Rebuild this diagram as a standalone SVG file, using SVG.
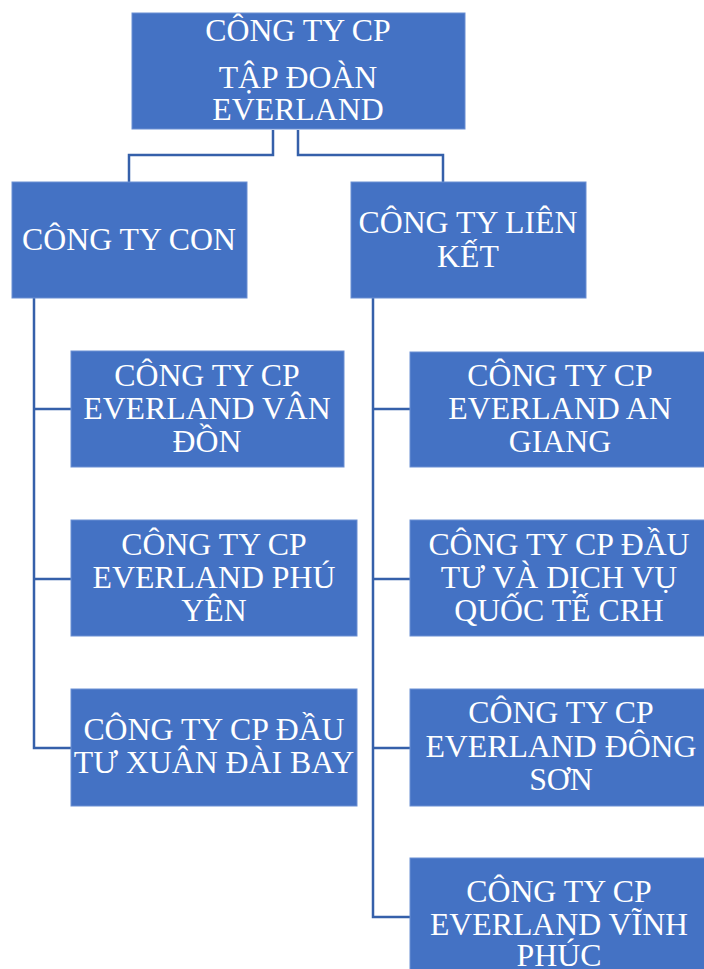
<svg xmlns="http://www.w3.org/2000/svg" width="704" height="969" viewBox="0 0 704 969">
<style>
.box{fill:#4472C4;stroke:#6A8FD3;stroke-width:1}
.t{font-family:"Liberation Serif","Times New Roman",serif;font-size:31.8px;fill:#FFFFFF;text-anchor:middle}
.c{fill:none;stroke:#3560AA;stroke-width:2.5}
</style>
<rect width="704" height="969" fill="#FFFFFF"/>
<g id="connectors">
<path class="c" d="M273,130 V155 H129 V182"/>
<path class="c" d="M298,130 V155 H443 V182"/>
<path class="c" d="M34,298 V748 H71"/>
<path class="c" d="M34,409 H71"/>
<path class="c" d="M34,579 H71"/>
<path class="c" d="M373,298 V917 H410"/>
<path class="c" d="M373,409 H410"/>
<path class="c" d="M373,579 H410"/>
<path class="c" d="M373,748 H410"/>
</g>
<g id="root">
<rect class="box" x="132" y="13" width="333" height="116"/>
<text class="t" x="298" y="41">CÔNG TY CP</text>
<text class="t" x="298" y="88">TẬP ĐOÀN</text>
<text class="t" x="298" y="120">EVERLAND</text>
</g>
<g id="con">
<rect class="box" x="12" y="182" width="235" height="116"/>
<text class="t" x="129" y="250">CÔNG TY CON</text>
</g>
<g id="lienket">
<rect class="box" x="351" y="182" width="235" height="116"/>
<text class="t" x="468" y="233">CÔNG TY LIÊN</text>
<text class="t" x="468" y="267">KẾT</text>
</g>
<g id="vandon">
<rect class="box" x="71" y="351" width="273" height="116"/>
<text class="t" x="207" y="386">CÔNG TY CP</text>
<text class="t" x="207" y="419">EVERLAND VÂN</text>
<text class="t" x="207" y="452">ĐỒN</text>
</g>
<g id="phuyen">
<rect class="box" x="71" y="520" width="286" height="116"/>
<text class="t" x="214" y="555">CÔNG TY CP</text>
<text class="t" x="214" y="588">EVERLAND PHÚ</text>
<text class="t" x="214" y="621">YÊN</text>
</g>
<g id="xuandaibay">
<rect class="box" x="71" y="689" width="286" height="117"/>
<text class="t" x="214" y="740">CÔNG TY CP ĐẦU</text>
<text class="t" x="214" y="773">TƯ XUÂN ĐÀI BAY</text>
</g>
<g id="angiang">
<rect class="box" x="410" y="352" width="300" height="115"/>
<text class="t" x="560" y="386">CÔNG TY CP</text>
<text class="t" x="560" y="419">EVERLAND AN</text>
<text class="t" x="560" y="452">GIANG</text>
</g>
<g id="crh">
<rect class="box" x="410" y="520" width="300" height="116"/>
<text class="t" x="559" y="555">CÔNG TY CP ĐẦU</text>
<text class="t" x="559" y="588">TƯ VÀ DỊCH VỤ</text>
<text class="t" x="559" y="621">QUỐC TẾ CRH</text>
</g>
<g id="dongson">
<rect class="box" x="410" y="689" width="300" height="117"/>
<text class="t" x="561" y="723">CÔNG TY CP</text>
<text class="t" x="561" y="757">EVERLAND ĐÔNG</text>
<text class="t" x="561" y="790">SƠN</text>
</g>
<g id="vinhphuc">
<rect class="box" x="410" y="858" width="300" height="120"/>
<text class="t" x="559" y="902">CÔNG TY CP</text>
<text class="t" x="559" y="935">EVERLAND VĨNH</text>
<text class="t" x="559" y="966">PHÚC</text>
</g>
</svg>
